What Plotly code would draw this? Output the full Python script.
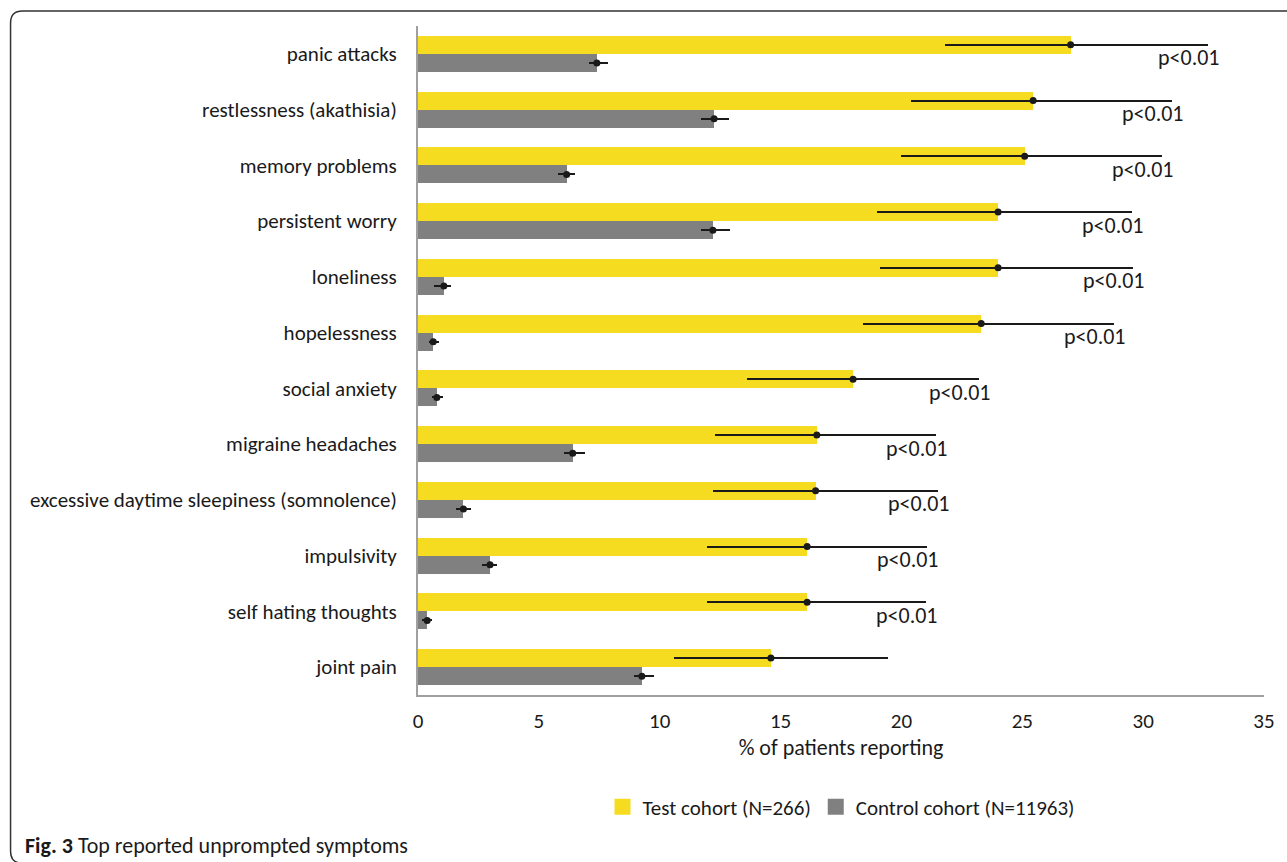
import plotly.graph_objects as go

# ---- data ----
symptoms = [
    "panic attacks", "restlessness (akathisia)", "memory problems",
    "persistent worry", "loneliness", "hopelessness", "social anxiety",
    "migraine headaches", "excessive daytime sleepiness (somnolence)",
    "impulsivity", "self hating thoughts", "joint pain",
]
test_pct = [27.0, 25.45, 25.1, 24.0, 24.0, 23.3, 18.0, 16.5, 16.45, 16.1, 16.1, 14.6]
test_lo = [21.8, 20.4, 20.0, 19.0, 19.1, 18.4, 13.6, 12.3, 12.2, 11.95, 11.95, 10.6]
test_hi = [32.7, 31.2, 30.8, 29.55, 29.6, 28.8, 23.2, 21.45, 21.5, 21.05, 21.0, 19.45]
ctrl_pct = [7.4, 12.25, 6.15, 12.2, 1.07, 0.63, 0.78, 6.4, 1.88, 2.98, 0.38, 9.26]
ctrl_lo = [7.07, 11.7, 5.8, 11.7, 0.67, 0.45, 0.58, 6.06, 1.56, 2.64, 0.18, 8.92]
ctrl_hi = [7.87, 12.88, 6.49, 12.9, 1.37, 0.85, 1.03, 6.91, 2.21, 3.27, 0.58, 9.75]
p_labels = ["p<0.01"] * 11 + [""]
x_ticks = [0, 5, 10, 15, 20, 25, 30, 35]
series_names = ["Test cohort (N=266)", "Control cohort (N=11963)"]

YELLOW = "#F5DC20"
GREY = "#808080"
INK = "#1a1a1a"
FONT = "Carlito, Lato, sans-serif"
FS = 21
BAR_W = 0.323

pos = list(range(len(symptoms)))

fig = go.Figure()

fig.add_trace(go.Bar(
    x=test_pct, y=pos, orientation="h", width=BAR_W, offset=-BAR_W,
    marker=dict(color=YELLOW, line=dict(width=0)), name=series_names[0],
    showlegend=False, legendgroup="test",
    error_x=dict(type="data", symmetric=False,
                 array=[h - v for h, v in zip(test_hi, test_pct)],
                 arrayminus=[v - l for v, l in zip(test_pct, test_lo)],
                 color=INK, thickness=2, width=0),
))
fig.add_trace(go.Bar(
    x=ctrl_pct, y=pos, orientation="h", width=BAR_W, offset=0,
    marker=dict(color=GREY, line=dict(width=0)), name=series_names[1],
    showlegend=False, legendgroup="ctrl",
    error_x=dict(type="data", symmetric=False,
                 array=[h - v for h, v in zip(ctrl_hi, ctrl_pct)],
                 arrayminus=[v - l for v, l in zip(ctrl_pct, ctrl_lo)],
                 color=INK, thickness=2, width=0),
))
# point markers at the bar ends
fig.add_trace(go.Scatter(
    x=test_pct, y=[p - BAR_W / 2 for p in pos], mode="markers",
    marker=dict(color=INK, size=7), showlegend=False, hoverinfo="skip",
    legendgroup="test",
))
fig.add_trace(go.Scatter(
    x=ctrl_pct, y=[p + BAR_W / 2 for p in pos], mode="markers",
    marker=dict(color=INK, size=7), showlegend=False, hoverinfo="skip",
    legendgroup="ctrl",
))
# legend entries (square swatches)
for name, col, grp in [(series_names[0], YELLOW, "test"), (series_names[1], GREY, "ctrl")]:
    fig.add_trace(go.Scatter(
        x=[None], y=[None], mode="markers", name=name, legendgroup=grp,
        marker=dict(symbol="square", color=col, size=17),
    ))

# p-value labels
for p, hi, lab in zip(pos, test_hi, p_labels):
    if lab:
        fig.add_annotation(x=hi, y=p, xref="x", yref="y", text=lab,
                           showarrow=False, xanchor="right", yanchor="middle",
                           xshift=14, yshift=-4,
                           font=dict(family=FONT, size=22, color=INK))

# ---- page geometry ----
W, H = 1287, 862
L, R, T, B = 417.6, 1266.0, 26.1, 694.9
PW, PH = R - L, B - T


def px(xpix):
    return (xpix - L) / PW


def py(ypix):
    return (B - ypix) / PH


# frame around figure (rounded corners)
fx0, fy0, fy1, rr = 9.0, 11.0, 863.0, 12.0
frame = (f"M {px(1300)},{py(fy1)} L {px(fx0 + rr)},{py(fy1)} "
         f"Q {px(fx0)},{py(fy1)} {px(fx0)},{py(fy1 - rr)} "
         f"L {px(fx0)},{py(fy0 + rr)} Q {px(fx0)},{py(fy0)} {px(fx0 + rr)},{py(fy0)} "
         f"L {px(1300)},{py(fy0)}")
fig.add_shape(type="path", path=frame, xref="paper", yref="paper",
              line=dict(color="#333333", width=1.5))

fig.add_annotation(x=px(21), y=py(845), xref="paper", yref="paper",
                   xanchor="left", yanchor="middle", showarrow=False,
                   text="<b>Fig. 3</b> Top reported unprompted symptoms",
                   font=dict(family=FONT, size=22, color=INK))

fig.update_layout(
    width=W, height=H,
    margin=dict(l=L, r=W - R, t=T, b=H - B, pad=0),
    paper_bgcolor="white", plot_bgcolor="white",
    font=dict(family=FONT, size=FS, color=INK),
    bargap=0, barmode="overlay",
    xaxis=dict(range=[0, 35], tickvals=x_ticks, ticktext=[str(t) for t in x_ticks],
               showgrid=False, zeroline=False, showline=True, linecolor="#A0A0A0",
               linewidth=2, ticks="", ticklabelstandoff=6,
               title=dict(text="% of patients reporting", standoff=5,
                          font=dict(family=FONT, size=22)),
               tickfont=dict(family=FONT, size=FS)),
    yaxis=dict(range=[11.5, -0.5], tickvals=pos, ticktext=symptoms,
               showgrid=False, zeroline=False, showline=True, linecolor="#A0A0A0",
               linewidth=2, ticks="", ticklabelstandoff=15,
               tickfont=dict(family=FONT, size=FS)),
    legend=dict(orientation="h", x=0.5, xanchor="center", y=py(807),
                yanchor="middle", font=dict(family=FONT, size=21),
                bgcolor="rgba(0,0,0,0)", itemclick="toggle"),
    showlegend=True,
)

fig.write_html("out.html", config={"displayModeBar": False},
               post_script="document.body.style.margin='0px';document.body.style.overflow='hidden';")
